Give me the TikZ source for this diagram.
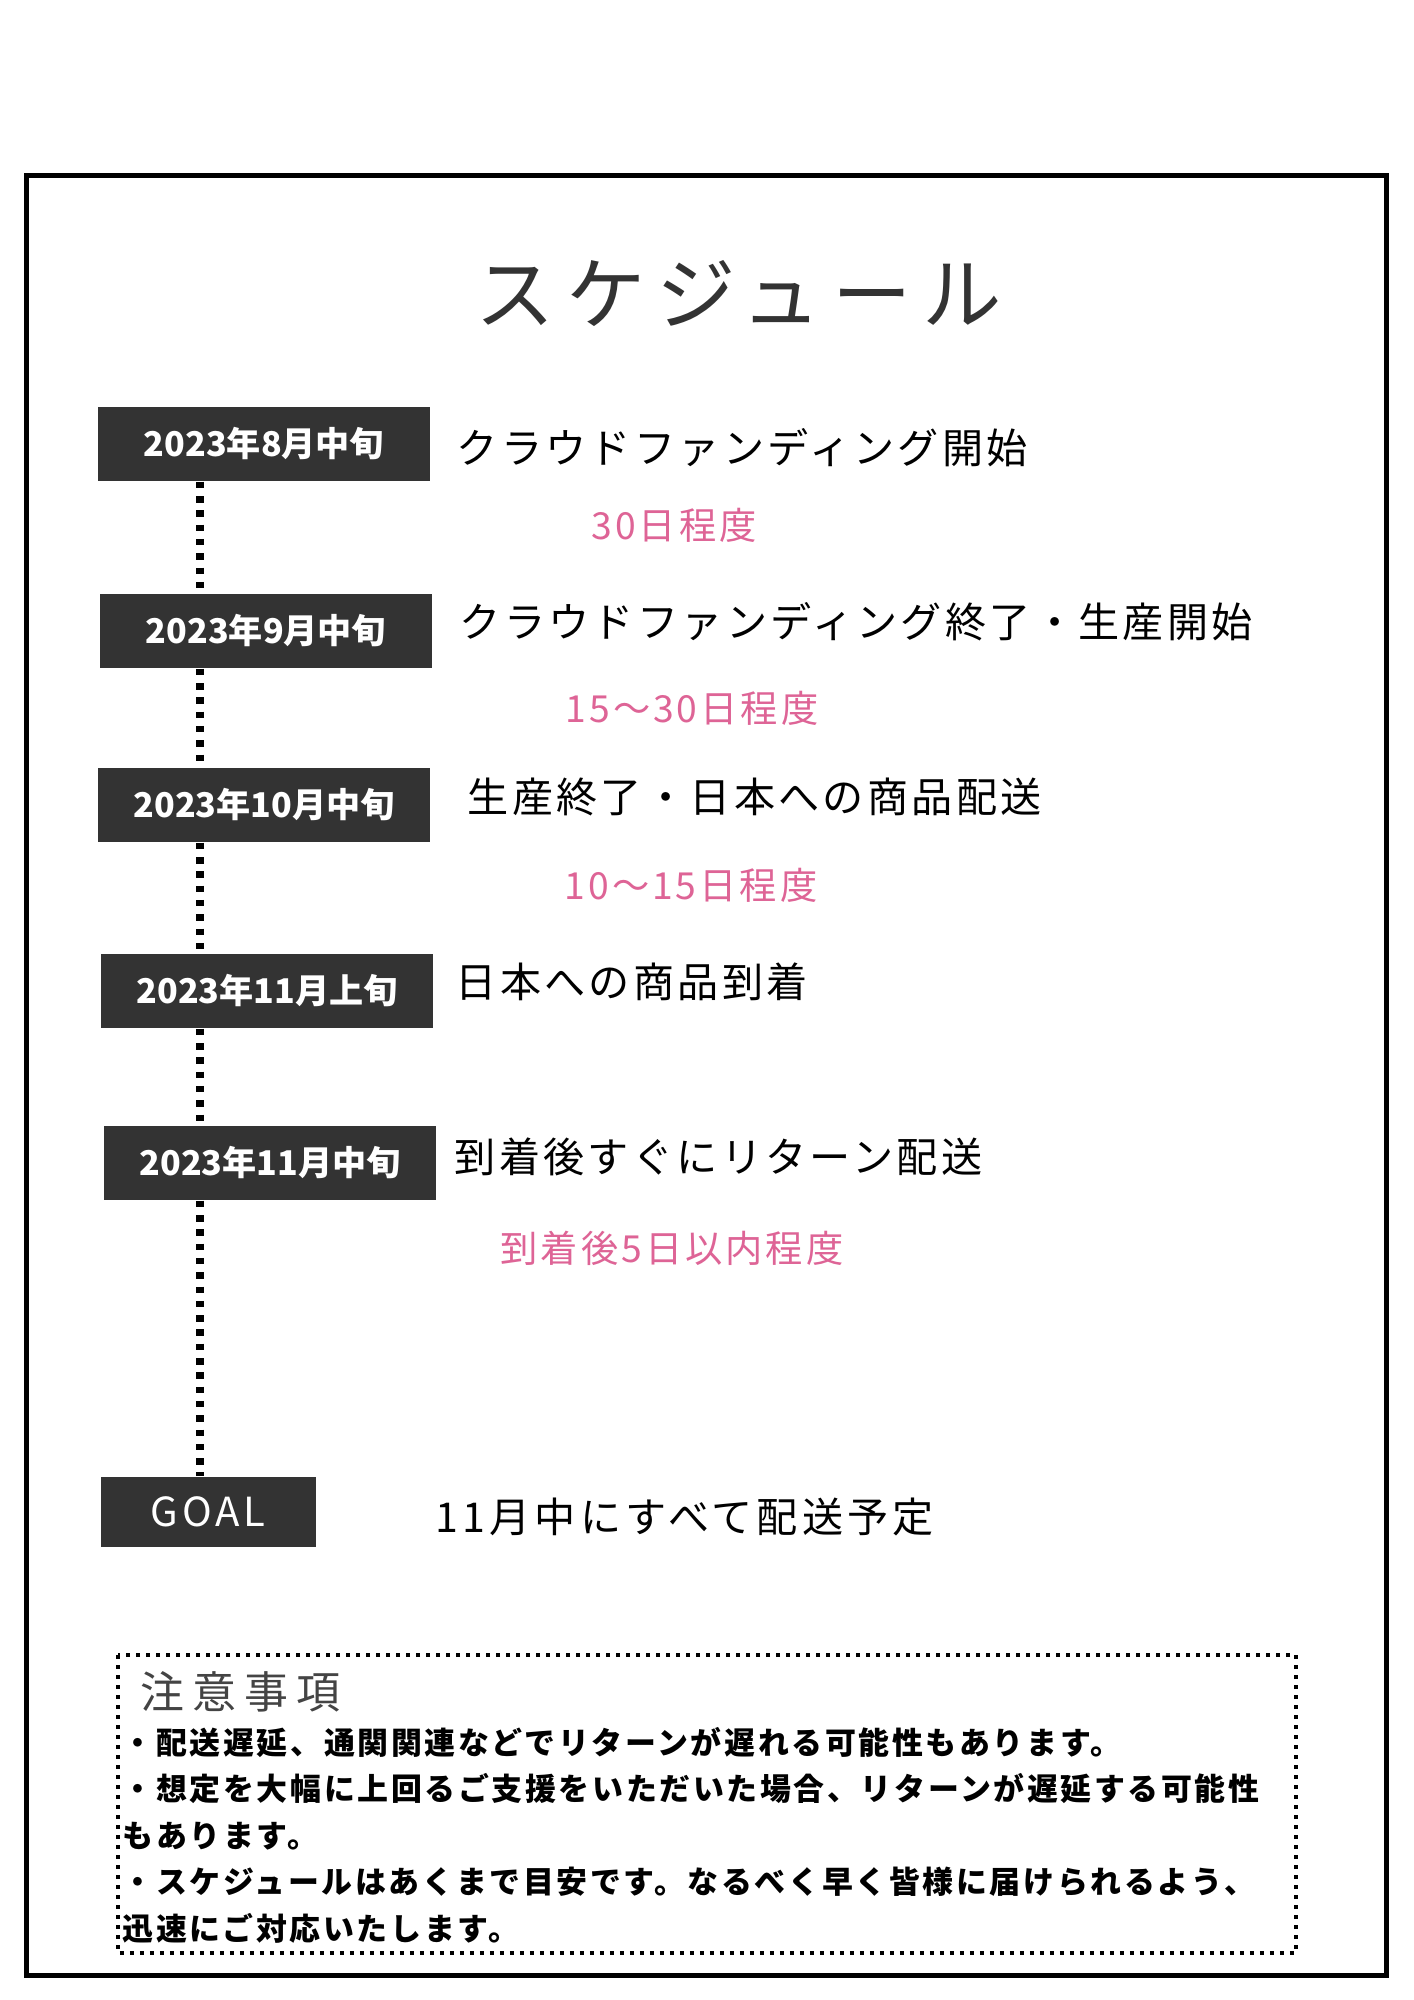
\documentclass[tikz,border=0pt]{standalone}
\usepackage{fontspec}
\usepackage{tikz}
\usetikzlibrary{positioning}
\setmainfont{Noto Sans CJK JP}
\newfontfamily\titlefont[LetterSpace=14]{Noto Sans CJK JP}
\newfontfamily\eventfont[LetterSpace=8]{Noto Sans CJK JP}
\newfontfamily\goaltextfont[LetterSpace=10]{Noto Sans CJK JP}
\newfontfamily\spanfont[LetterSpace=8]{Noto Sans CJK JP}
\newfontfamily\datefont{Noto Sans CJK JP}
\newfontfamily\goalfont[LetterSpace=10]{Noto Sans CJK JP}
\newfontfamily\headfont[LetterSpace=18]{Noto Sans CJK JP}
\newfontfamily\notefont[LetterSpace=8.5]{Noto Sans CJK JP}
\definecolor{boxgray}{HTML}{333333}
\definecolor{titlegray}{HTML}{333333}
\definecolor{headgray}{HTML}{444444}
\definecolor{spanpink}{HTML}{DE6496}
\tikzset{datebox/.style = {fill=boxgray, text=white, inner sep=0,
                           minimum width=33.2mm, minimum height=7.4mm,
                           font=\datefont\bfseries\fontsize{9.7}{11}\selectfont}}
\tikzset{event/.style = {anchor=west, inner sep=0,
                         font=\eventfont\fontsize{11.7}{14}\selectfont}}
\tikzset{span/.style = {text=spanpink, inner sep=0,
                        font=\spanfont\fontsize{10.6}{12}\selectfont}}
\tikzset{note/.style = {anchor=west, inner sep=0,
                        font=\notefont\bfseries\fontsize{8.8}{10}\selectfont}}
\tikzset{timeline/.style = {line width=0.75mm, dash pattern=on 0.65mm off 0.78mm}}
\tikzset{notebox/.style = {line width=0.42mm, dash pattern=on 0.4mm off 0.6mm}}

\begin{document}
\begin{tikzpicture}[x=0.1mm, y=-0.1mm]
    \useasboundingbox [fill=white] (0, 0) rectangle (1414, 2000);
    \draw [line width=0.5mm] (26, 175) rectangle (1386, 1975);

    \node [inner sep=0, text=titlegray, font=\titlefont\fontsize{22.6}{26}\selectfont] (title) at (739, 293) {スケジュール};

    % dates
    \node [datebox] (d1) at (264, 444) {2023年8月中旬};
    \node [datebox] (d2) at (266, 631) {2023年9月中旬};
    \node [datebox] (d3) at (264, 805) {2023年10月中旬};
    \node [datebox] (d4) at (267, 991) {2023年11月上旬};
    \node [datebox] (d5) at (270, 1163) {2023年11月中旬};
    \node [datebox, minimum width=21.5mm, minimum height=7mm,
           font=\goalfont\fontsize{11.4}{13}\selectfont] (goal) at (208, 1512) {GOAL};

    \coordinate (axis) at (200, 0);
    \foreach \a/\b in {d1/d2, d2/d3, d3/d4, d4/d5, d5/goal}
      \draw [timeline] (\a.south -| axis) -- (\b.north -| axis);

    % events
    \node [event] (e1) at (456, 448) {クラウドファンディング開始};
    \node [event] (e2) at (459, 622) {クラウドファンディング終了・生産開始};
    \node [event] (e3) at (467, 797) {生産終了・日本への商品配送};
    \node [event] (e4) at (455, 982) {日本への商品到着};
    \node [event] (e5) at (454, 1157) {到着後すぐにリターン配送};
    \node [event, font=\goaltextfont\fontsize{11.7}{14}\selectfont] (e6) at (435, 1517) {11月中にすべて配送予定};

    \node [span] (s1) at (674, 525) {30日程度};
    \node [span] (s2) at (692, 708) {15〜30日程度};
    \node [span] (s3) at (691, 885) {10〜15日程度};
    \node [span] (s4) at (672, 1248) {到着後5日以内程度};

    % notes
    \draw [notebox] (118, 1655) rectangle (1296, 1953);
    \node [anchor=west, inner sep=0, text=headgray,
           font=\headfont\fontsize{12.5}{14}\selectfont] (head) at (140, 1692) {注意事項};
    \node [note] (n1) at (122, 1742) {・配送遅延、通関関連などでリターンが遅れる可能性もあります。};
    \node [note] (n2) at (122, 1788) {・想定を大幅に上回るご支援をいただいた場合、リターンが遅延する可能性};
    \node [note] (n3) at (122, 1836) {もあります。};
    \node [note] (n4) at (122, 1882) {・スケジュールはあくまで目安です。なるべく早く皆様に届けられるよう、};
    \node [note] (n5) at (122, 1928) {迅速にご対応いたします。};
\end{tikzpicture}
\end{document}
